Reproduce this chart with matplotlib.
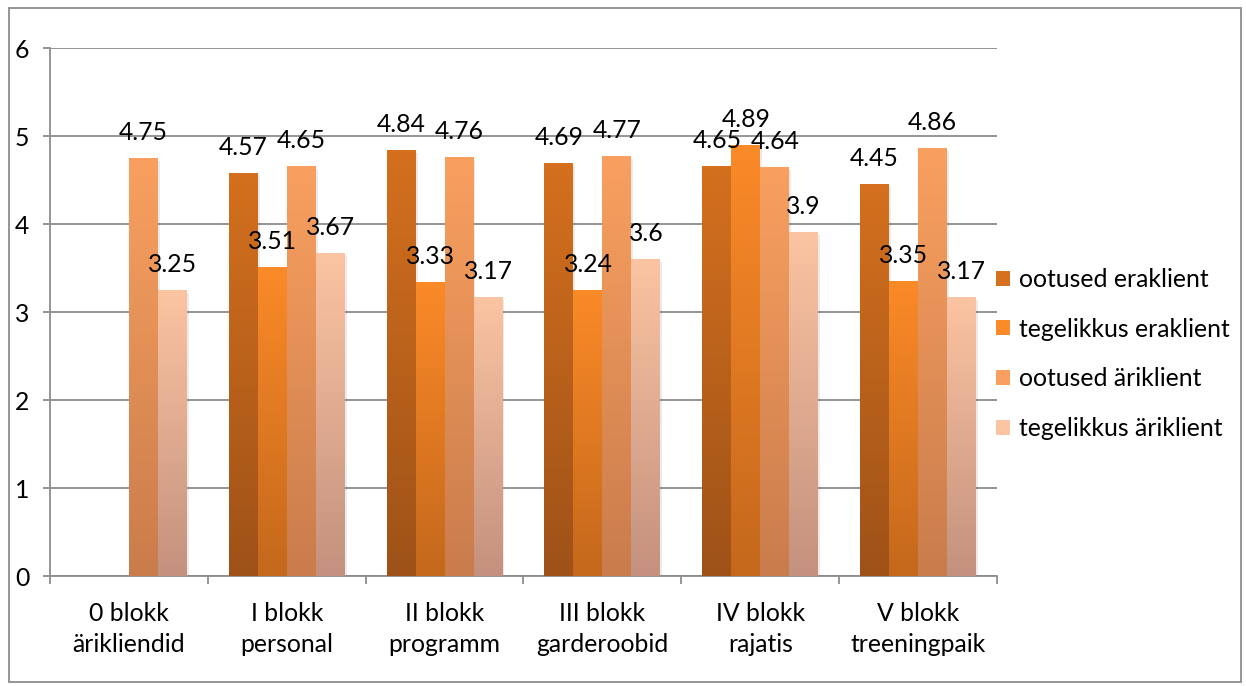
"""Grouped bar chart: ootused vs tegelikkus per blokk (eraklient / äriklient)."""

import numpy as np
import matplotlib
matplotlib.use('Agg')
import matplotlib.pyplot as plt
from matplotlib.colors import LinearSegmentedColormap
from matplotlib.patches import Rectangle

# Data
categories = ['0 blokk\närikliendid', 'I blokk\npersonal', 'II blokk\nprogramm',
              'III blokk\ngarderoobid', 'IV blokk\nrajatis', 'V blokk\ntreeningpaik']
ootused_eraklient = [np.nan, 4.57, 4.84, 4.69, 4.65, 4.45]
tegelikkus_eraklient = [np.nan, 3.51, 3.33, 3.24, 4.89, 3.35]
ootused_ariklient = [4.75, 4.65, 4.76, 4.77, 4.64, 4.86]
tegelikkus_ariklient = [3.25, 3.67, 3.17, 3.60, 3.90, 3.17]
series_names = ['ootused eraklient', 'tegelikkus eraklient',
                'ootused äriklient', 'tegelikkus äriklient']
y_ticks = [0, 1, 2, 3, 4, 5, 6]

# (top colour, bottom colour) per series
gradients = [('#D4701E', '#9E5218'),
             ('#FB8A28', '#C4681C'),
             ('#F9A060', '#C97C4C'),
             ('#FBC4A2', '#C3917E')]

plt.rcParams['font.family'] = ['Lato', 'DejaVu Sans']
FONT = 17.8
GRAY = '#8C8C8C'

fig = plt.figure(figsize=(12.46, 6.86), dpi=100)
ax = fig.add_axes([50 / 1246, 110 / 686, 947 / 1246, 528 / 686])

# outer chart frame
fig.patches.append(Rectangle((9 / 1246, 4 / 686), 1232 / 1246, 674 / 686,
                             transform=fig.transFigure, fill=False,
                             edgecolor=GRAY, linewidth=1.3))

all_series = [ootused_eraklient, tegelikkus_eraklient,
              ootused_ariklient, tegelikkus_ariklient]
x = np.arange(len(categories))
width = 0.1835

for i, (vals, name, (top, bottom)) in enumerate(zip(all_series, series_names, gradients)):
    offs = (i - 1.5) * width
    cmap = LinearSegmentedColormap.from_list(name, [bottom, top])
    bars = ax.bar(x + offs, vals, width, color=top, label=name, zorder=3,
                  linewidth=0)
    for b, v in zip(bars, vals):
        if np.isnan(v):
            continue
        x0 = b.get_x()
        # soft shadow
        ax.add_patch(Rectangle((x0 + 0.012, 0), width, v - 0.03,
                               facecolor='#000000', alpha=0.08,
                               linewidth=0, zorder=2))
        grad = np.linspace(0, 1, 256).reshape(-1, 1)
        ax.imshow(grad, extent=[x0, x0 + width, 0, v], origin='lower',
                  cmap=cmap, aspect='auto', zorder=3.5)
        ax.annotate(f'{v:g}', (x0 + width / 2, v), xytext=(0, 26 / 1.389),
                    textcoords='offset points', ha='center', va='center',
                    fontsize=FONT, color='#000000', zorder=5)

ax.set_xlim(-0.5, len(categories) - 0.5)
ax.set_ylim(0, 6)
ax.set_yticks(y_ticks)
ax.set_yticklabels([str(t) for t in y_ticks], fontsize=FONT)
ax.yaxis.grid(True, color=GRAY, linewidth=1.3, zorder=1)
ax.set_axisbelow(True)

ax.set_xticks(x)
ax.set_xticklabels(categories, fontsize=FONT, linespacing=1.42)
ax.set_xticks(np.arange(-0.5, len(categories), 1), minor=True)
ax.tick_params(axis='x', which='major', length=0, pad=18.5)
ax.tick_params(axis='x', which='minor', length=6, width=1.3, color=GRAY)
ax.tick_params(axis='y', length=5, width=1.3, color=GRAY, pad=10)

for side in ['top', 'right']:
    ax.spines[side].set_visible(False)
for side in ['left', 'bottom']:
    ax.spines[side].set_color(GRAY)
    ax.spines[side].set_linewidth(1.3)

handles = [Rectangle((0, 0), 1, 1, facecolor=top, edgecolor='none')
           for top, _ in gradients]
fig.legend(handles, series_names, loc='center left',
           bbox_to_anchor=(996 / 1246, 1 - 354 / 686), frameon=False,
           fontsize=FONT, handlelength=0.55, handleheight=0.55,
           handletextpad=0.4, labelspacing=1.08, borderaxespad=0,
           borderpad=0)

fig.savefig('out.png', dpi=100)
